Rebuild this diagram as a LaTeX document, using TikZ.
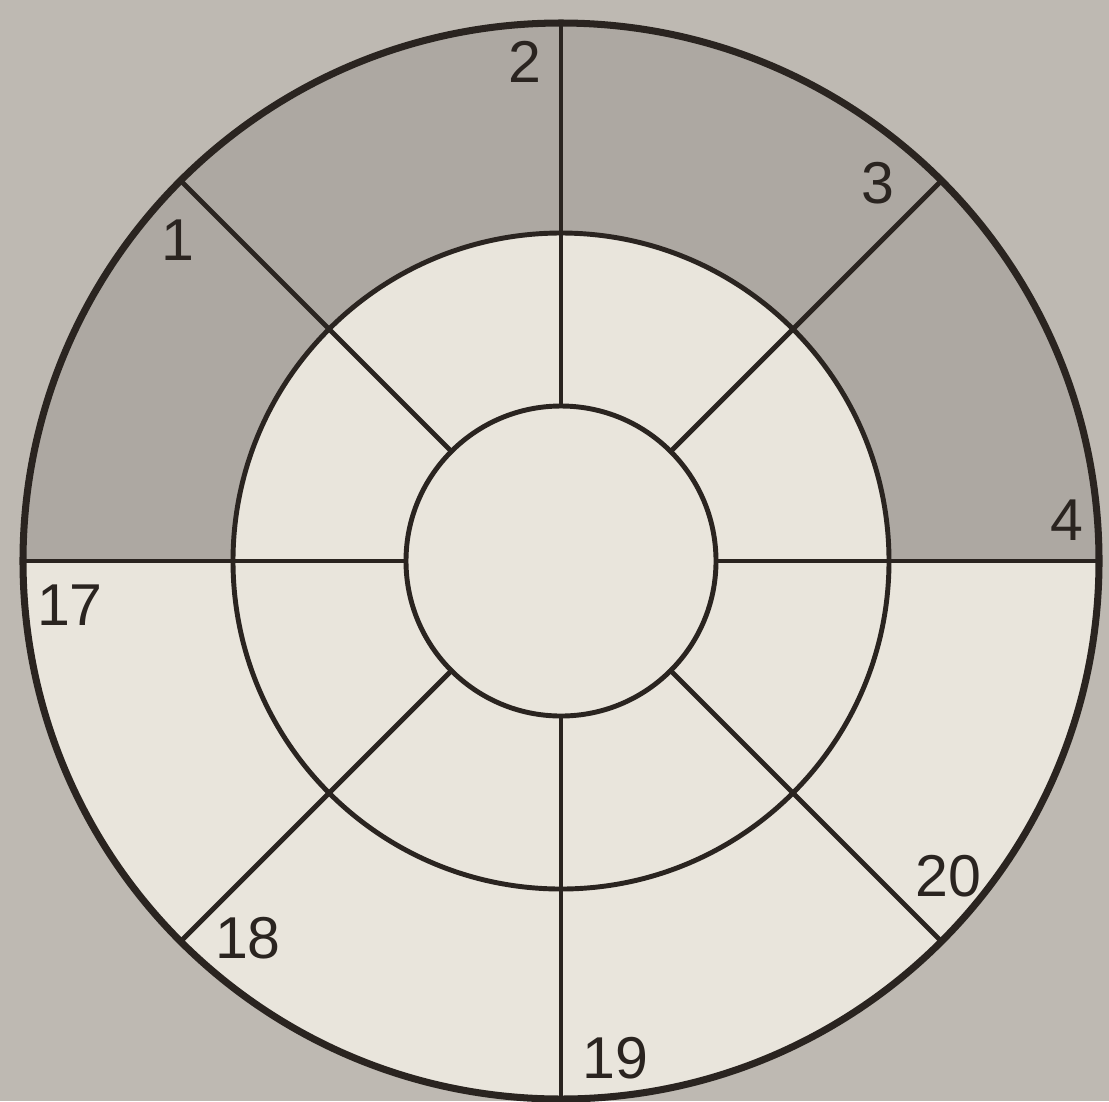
\documentclass[tikz,border=0pt]{standalone}
\usepackage{fontspec}
\setmainfont{Liberation Sans}
\begin{document}
\begin{tikzpicture}[x=0.025cm,y=-0.025cm]
\definecolor{bg}{HTML}{BEB9B2}
\definecolor{dark}{HTML}{ADA8A2}
\definecolor{light}{HTML}{E9E5DC}
\definecolor{ink}{HTML}{2A2420}
\tikzset{
  lab/.style={font=\fontsize{42}{42}\selectfont, text=ink, inner sep=0pt},
  thinline/.style={draw=ink, line width=3.5pt},
  rimline/.style={draw=ink, line width=5pt}
}
\useasboundingbox (0,0) rectangle (1109,1101);
\fill[bg] (0,0) rectangle (1109,1101);
\coordinate (C) at (561,561);
\fill[light] (C) circle[radius=538];
\begin{scope}
  \clip (0,0) rectangle (1109,561);
  \fill[dark, even odd rule] (C) circle[radius=538] (C) circle[radius=328];
\end{scope}
\foreach \a in {0,45,...,315}
  \draw[thinline] (C) ++(\a:155) -- ++(\a:383);
\draw[thinline] (C) circle[radius=328];
\draw[thinline] (C) circle[radius=155];
\draw[rimline] (C) circle[radius=538];
\node[lab] (l1) at (178,240) {1};
\node[lab] (l2) at (525,62) {2};
\node[lab] (l3) at (878,183) {3};
\node[lab] (l4) at (1067,520) {4};
\node[lab] (l17) at (70,605) {17};
\node[lab] (l18) at (248,938) {18};
\node[lab] (l19) at (615,1058) {19};
\node[lab] (l20) at (948,876) {20};
\end{tikzpicture}
\end{document}
